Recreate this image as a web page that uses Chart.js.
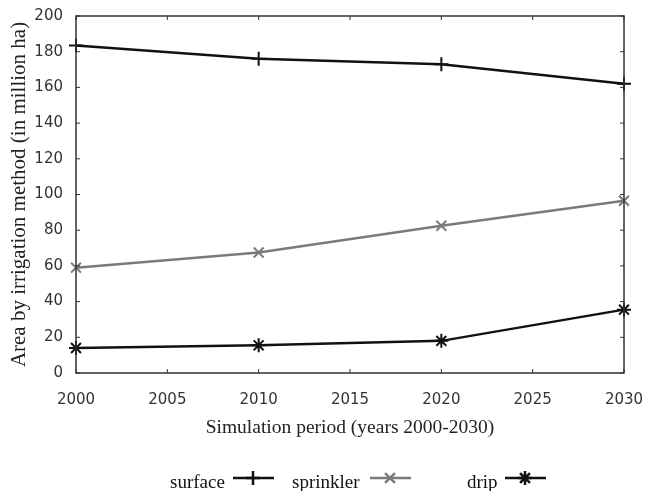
<!DOCTYPE html>
<html>
<head>
<meta charset="utf-8">
<script src="https://cdn.jsdelivr.net/npm/chart.js@4.4.1/dist/chart.umd.min.js"></script>
<style>
  html, body { margin: 0; padding: 0; background: #fff; }
  #wrap { width: 647px; height: 491px; }
</style>
</head>
<body>
<div id="wrap"><canvas id="chart" width="647" height="491"></canvas></div>
<script>
// data
const years = [2000, 2010, 2020, 2030];
const surface = [183.5, 176, 173, 162];
const sprinkler = [59, 67.5, 82.5, 96.5];
const drip = [14, 15.5, 18, 35.5];
const seriesNames = ['surface', 'sprinkler', 'drip'];

const xTicks = [2000, 2005, 2010, 2015, 2020, 2025, 2030];
const yTicks = [0, 20, 40, 60, 80, 100, 120, 140, 160, 180, 200];

const serif = '"Liberation Serif", "Times New Roman", serif';
const sans = '"DejaVu Sans", sans-serif';

function pts(vals) {
  return years.map((y, i) => ({ x: y, y: vals[i] }));
}

// frame with inward ticks on all four sides
const framePlugin = {
  id: 'frame',
  afterDraw(chart) {
    const c = chart.ctx;
    const a = chart.chartArea;
    const xs = chart.scales.x, ys = chart.scales.y;
    c.save();
    c.strokeStyle = '#333';
    c.lineWidth = 1.5;
    c.strokeRect(a.left, a.top, a.right - a.left, a.bottom - a.top);
    c.lineWidth = 1;
    xTicks.forEach(t => {
      const px = xs.getPixelForValue(t);
      c.beginPath();
      c.moveTo(px, a.bottom); c.lineTo(px, a.bottom - 4);
      c.moveTo(px, a.top); c.lineTo(px, a.top + 4);
      c.stroke();
    });
    yTicks.forEach(t => {
      const py = ys.getPixelForValue(t);
      c.beginPath();
      c.moveTo(a.left, py); c.lineTo(a.left + 4, py);
      c.moveTo(a.right, py); c.lineTo(a.right - 4, py);
      c.stroke();
    });
    c.restore();
  }
};

// legend: text first, then line sample with marker
const legendPlugin = {
  id: 'legendRow',
  afterDraw(chart) {
    const c = chart.ctx;
    const spots = [
      { tx: 170, lx: 233 },
      { tx: 292, lx: 370 },
      { tx: 467, lx: 505 }
    ];
    c.save();
    c.font = '19px ' + serif;
    c.textBaseline = 'alphabetic';
    chart.data.datasets.forEach((ds, i) => {
      const s = spots[i];
      c.fillStyle = '#111';
      c.fillText(ds.label, s.tx, 488);
      c.strokeStyle = ds.borderColor;
      c.lineWidth = 2.5;
      c.beginPath();
      c.moveTo(s.lx, 478); c.lineTo(s.lx + 41, 478);
      c.stroke();
      Chart.helpers.drawPoint(c, {
        pointStyle: ds.pointStyle,
        radius: ds.pointRadius,
        borderWidth: ds.pointBorderWidth,
        rotation: 0
      }, s.lx + 20, 478);
    });
    c.restore();
  }
};

const mk = (label, vals, color, style) => ({
  label: label,
  data: pts(vals),
  borderColor: color,
  backgroundColor: color,
  borderWidth: 2.5,
  pointStyle: style,
  pointRadius: 7,
  pointBorderWidth: 2,
  pointBorderColor: color,
  tension: 0,
  clip: false
});

new Chart(document.getElementById('chart'), {
  type: 'line',
  data: {
    datasets: [
      mk(seriesNames[0], surface, '#111', 'cross'),
      mk(seriesNames[1], sprinkler, '#7a7a7a', 'crossRot'),
      mk(seriesNames[2], drip, '#111', 'star')
    ]
  },
  options: {
    responsive: false,
    animation: false,
    layout: { padding: { top: 16, right: 23, left: 0, bottom: 0 } },
    plugins: {
      legend: { display: false },
      tooltip: { enabled: false }
    },
    scales: {
      x: {
        type: 'linear',
        min: 2000,
        max: 2030,
        afterBuildTicks: s => { s.ticks = xTicks.map(v => ({ value: v })); },
        afterFit: s => { s.height = 118; s.paddingLeft = 0; s.paddingRight = 0; },
        grid: { display: false, drawTicks: false },
        border: { display: false },
        ticks: {
          color: '#333',
          font: { family: sans, size: 15 },
          padding: 18,
          maxRotation: 0,
          autoSkip: false,
          callback: v => String(v)
        },
        title: {
          display: true,
          text: 'Simulation period (years 2000-2030)',
          color: '#222',
          font: { family: serif, size: 19.5 },
          padding: { top: 0, bottom: 51 }
        }
      },
      y: {
        min: 0,
        max: 200,
        afterBuildTicks: s => { s.ticks = yTicks.map(v => ({ value: v })); },
        afterFit: s => { s.width = 76; s.paddingTop = 0; s.paddingBottom = 0; },
        grid: { display: false, drawTicks: false },
        border: { display: false },
        ticks: {
          color: '#333',
          font: { family: sans, size: 15 },
          padding: 13
        },
        title: {
          display: true,
          text: 'Area by irrigation method (in million ha)',
          color: '#222',
          font: { family: serif, size: 21 },
          padding: { top: 7, bottom: 0 }
        }
      }
    }
  },
  plugins: [framePlugin, legendPlugin]
});
</script>
</body>
</html>
